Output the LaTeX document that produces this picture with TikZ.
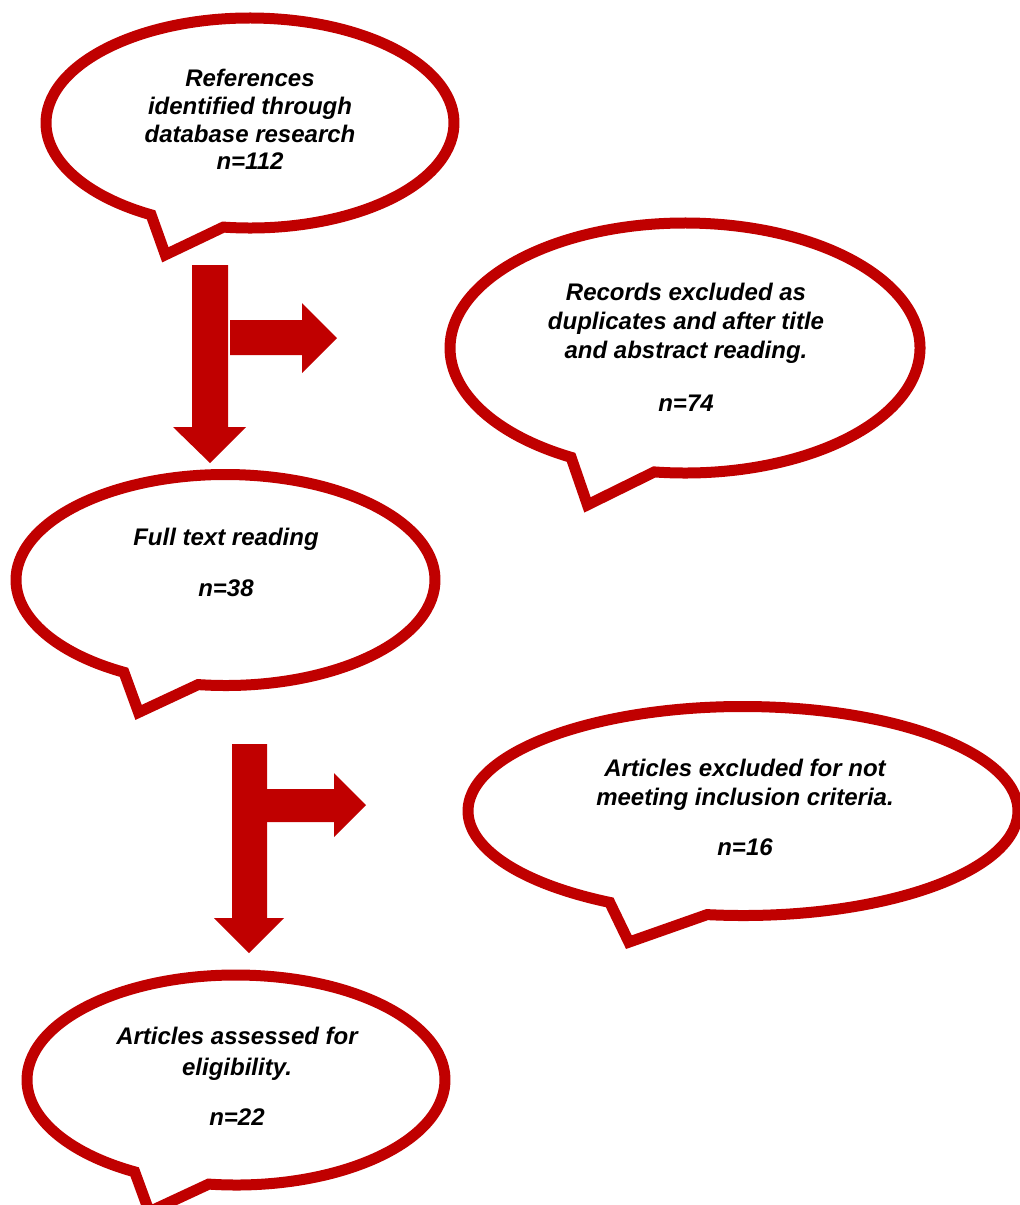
\documentclass[tikz,border=0pt]{standalone}
\usepackage{fontspec}
\setmainfont{Liberation Sans}
\definecolor{bred}{HTML}{C00000}
\tikzset{
  bubble/.style={draw=bred, line width=11pt, line join=miter, miter limit=10, fill=white},
  bubtext/.style={font=\fontsize{24}{29}\selectfont\bfseries\itshape, align=center, inner sep=0pt, text=black},
  blockarrow/.style={fill=bred, draw=none}
}
% #1 cx, #2 cy (pixels, downwards), #3 rx, #4 ry
\newcommand\bubbleshape[4]{%
  \draw[bubble] ({#1+#3*cos(-97.5)},{-(#2)+#4*sin(-97.5)})
    arc[start angle=-97.5, end angle=241, x radius=#3pt, y radius=#4pt]
    -- ({#1-0.415*#3},{-(#2)-1.255*#4}) -- cycle;}
\begin{document}
\begin{tikzpicture}[x=1pt,y=1pt]
\fill[white] (0,0) rectangle (1020,-1205);
\useasboundingbox (0,0) rectangle (1020,-1205);
\clip (0,0) rectangle (1020,-1205);

% bubbles
\bubbleshape{250}{123}{204}{105}
\bubbleshape{685}{348}{235}{125}
\bubbleshape{225.5}{580}{209.5}{105.5}
\bubbleshape{743}{811}{275}{104.5}
\bubbleshape{236}{1080}{209}{105}

% texts
\node[bubtext, font=\fontsize{24}{27.7}\selectfont\bfseries\itshape] (refs) at (250,-119.5)
  {References\\identified through\\database research\\n=112};
\node[bubtext] (excl1) at (686,-347)
  {Records excluded as\\duplicates and after title\\and abstract reading.\\[24pt]n=74};
\node[bubtext] (full) at (226,-562.5)
  {Full text reading\\[22pt]n=38};
\node[bubtext] (excl2) at (745,-807.5)
  {Articles excluded for not\\meeting inclusion criteria.\\[21pt]n=16};
\node[bubtext, font=\fontsize{24}{31}\selectfont\bfseries\itshape] (assess) at (237,-1076)
  {Articles assessed for\\eligibility.\\[19pt]n=22};

% block arrows, first stage
\fill[blockarrow] (192,-265) -- (228,-265) -- (228,-427) -- (246,-427) -- (210,-463)
  -- (173,-427) -- (192,-427) -- cycle;
\fill[blockarrow] (230,-320) -- (302,-320) -- (302,-303) -- (337,-338) -- (302,-373)
  -- (302,-355) -- (230,-355) -- cycle;

% block arrows, second stage
\fill[blockarrow] (232,-744) -- (267,-744) -- (267,-918) -- (284,-918) -- (249,-953)
  -- (214,-918) -- (232,-918) -- cycle;
\fill[blockarrow] (266,-789) -- (334,-789) -- (334,-773) -- (366,-805) -- (334,-837)
  -- (334,-822) -- (266,-822) -- cycle;
\end{tikzpicture}
\end{document}
